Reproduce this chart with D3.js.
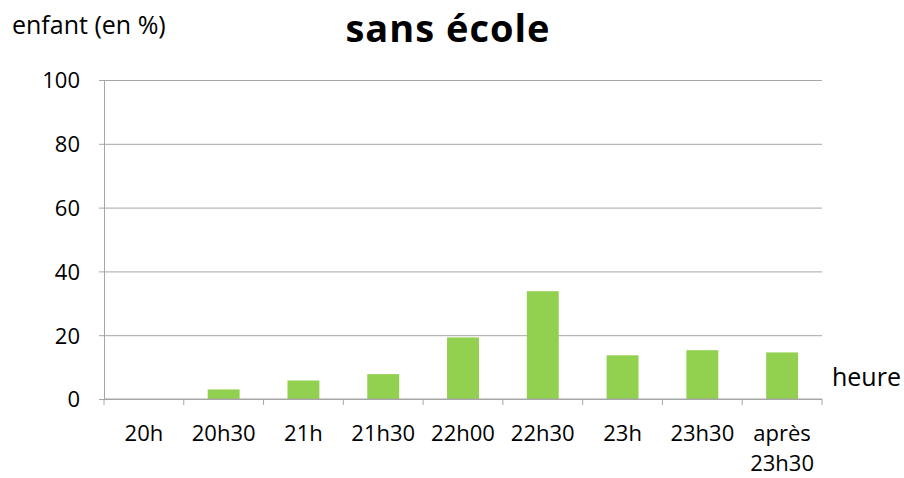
<!DOCTYPE html>
<html>
<head>
<meta charset="utf-8">
<script src="https://cdn.jsdelivr.net/npm/d3@7"></script>
<style>
  html, body { margin: 0; padding: 0; background: #fff; }
  svg { display: block; }
  text { font-family: "Open Sans", "DejaVu Sans Condensed", sans-serif; fill: #000; }
</style>
</head>
<body>
<svg id="chart" width="904" height="478"></svg>
<script>
// Share of children (%) by bedtime, no school the next day
const categories = ["20h", "20h30", "21h", "21h30", "22h00", "22h30", "23h", "23h30", "après\n23h30"];
const values = [0, 3, 5.8, 7.8, 19.3, 33.8, 13.7, 15.3, 14.6];
const yTicks = [0, 20, 40, 60, 80, 100];

const title = "sans école";
const yTitle = "enfant (en %)";
const xTitle = "heure";

const svg = d3.select("#chart");
const margin = { left: 104, right: 82, top: 80, bottom: 79 };
const W = 904, H = 478;

const x = d3.scaleBand()
  .domain(categories)
  .range([margin.left, W - margin.right])
  .paddingInner(0.6)
  .paddingOuter(0.3);

const y = d3.scaleLinear()
  .domain([0, 100])
  .range([H - margin.bottom, margin.top]);

const gridColor = "#a6a6a6";

// horizontal gridlines with short outer ticks
const yAxis = d3.axisLeft(y)
  .tickValues(yTicks)
  .tickSize(-(W - margin.right - margin.left))
  .tickSizeOuter(0)
  .tickPadding(24);

const gy = svg.append("g")
  .attr("transform", `translate(${margin.left},0)`)
  .call(yAxis);
gy.select(".domain").attr("stroke", gridColor);
gy.selectAll(".tick line")
  .attr("stroke", gridColor)
  .attr("x1", -5);
gy.selectAll(".tick text")
  .attr("font-size", 22)
  .attr("font-family", "Open Sans")
  .attr("dy", "0.36em");

// bars
svg.append("g")
  .selectAll("rect")
  .data(values)
  .join("rect")
  .attr("x", (d, i) => x(categories[i]))
  .attr("width", x.bandwidth())
  .attr("y", d => y(d))
  .attr("height", d => y(0) - y(d))
  .attr("fill", "#92d050");

// category axis with tick marks between bands
const step = x.step();
const xAxis = d3.axisBottom(x).tickSize(0).tickSizeOuter(0).tickFormat("");
const gx = svg.append("g")
  .attr("transform", `translate(0,${y(0)})`)
  .call(xAxis);
gx.select(".domain").remove();
gx.append("line")
  .attr("x1", margin.left).attr("x2", W - margin.right)
  .attr("stroke", gridColor);
const boundaries = d3.range(categories.length + 1).map(i => margin.left + i * step);
gx.selectAll(".sep")
  .data(boundaries)
  .join("line")
  .attr("class", "sep")
  .attr("x1", d => d).attr("x2", d => d)
  .attr("y1", 0).attr("y2", 6)
  .attr("stroke", gridColor);

// category labels (multi-line)
const lbl = svg.append("g").selectAll("text")
  .data(categories)
  .join("text")
  .attr("x", d => x(d) + x.bandwidth() / 2)
  .attr("y", y(0) + 42)
  .attr("text-anchor", "middle")
  .attr("font-size", 22);
lbl.each(function (d) {
  const t = d3.select(this);
  d.split("\n").forEach((line, k) => {
    t.append("tspan")
      .attr("x", t.attr("x"))
      .attr("dy", k === 0 ? 0 : 30)
      .text(line);
  });
});

svg.append("text")
  .attr("x", 448).attr("y", 42)
  .attr("text-anchor", "middle")
  .attr("font-size", 38)
  .attr("letter-spacing", 1)
  .attr("font-weight", "bold")
  .text(title);

svg.append("text")
  .attr("x", 12).attr("y", 34)
  .attr("font-size", 25)
  .text(yTitle);

svg.append("text")
  .attr("x", 832).attr("y", 386)
  .attr("font-size", 25)
  .text(xTitle);
</script>
</body>
</html>
